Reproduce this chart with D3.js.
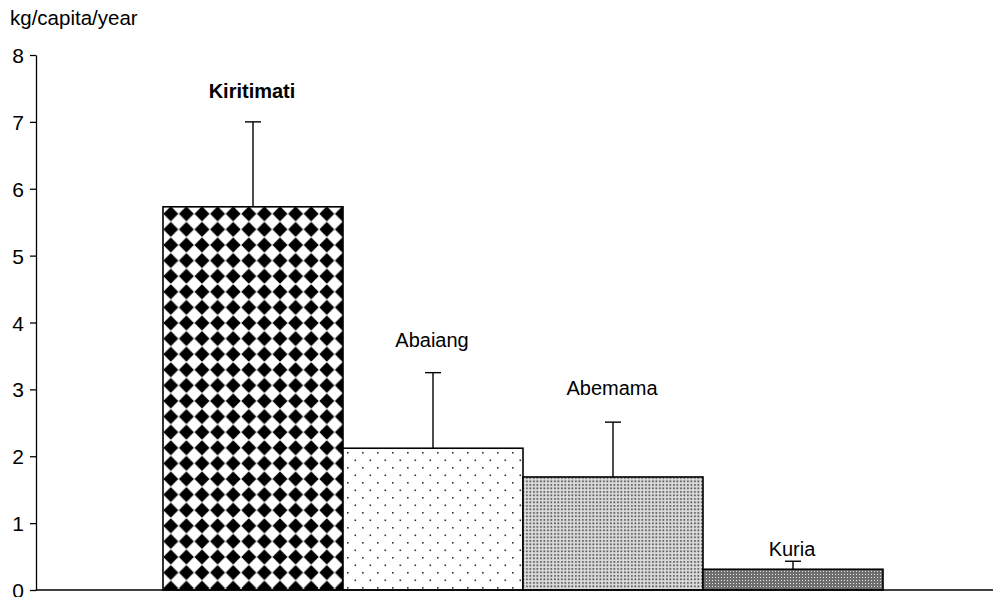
<!DOCTYPE html>
<html><head><meta charset="utf-8">
<script src="https://cdn.jsdelivr.net/npm/d3@7"></script>
<style>body{margin:0;background:#fff}svg{display:block}text{font-family:"Liberation Sans",Arial,sans-serif;fill:#000}</style>
</head><body>
<script>
// data
const categories = ["Kiritimati", "Abaiang", "Abemama", "Kuria"];
const values = [5.73, 2.12, 1.69, 0.31];
const errors = [1.27, 1.13, 0.82, 0.12];
const labelAt = [7.35, 3.63, 2.92, 0.51];
const labelBold = [true, false, false, false];
const yTicks = [0, 1, 2, 3, 4, 5, 6, 7, 8];
const yTitle = "kg/capita/year";

const W = 1001, H = 597;
const svg = d3.select("body").append("svg").attr("width", W).attr("height", H);
const defs = svg.append("defs");

// patterns
const p1 = defs.append("pattern").attr("id", "pKir").attr("patternUnits", "userSpaceOnUse")
  .attr("width", 15.6).attr("height", 15.6).attr("x", 163).attr("y", 206);
p1.append("rect").attr("width", 15.6).attr("height", 15.6).attr("fill", "#fff");
p1.append("path").attr("d", "M7.8,0.3 L15.3,7.8 L7.8,15.3 L0.3,7.8Z").attr("fill", "#000");

const p2 = defs.append("pattern").attr("id", "pAba").attr("patternUnits", "userSpaceOnUse")
  .attr("width", 15).attr("height", 15).attr("x", 345).attr("y", 450);
p2.append("rect").attr("width", 15).attr("height", 15).attr("fill", "#fff");
p2.append("rect").attr("x", 2).attr("y", 2).attr("width", 1.6).attr("height", 1.6).attr("fill", "#333");
p2.append("rect").attr("x", 9.5).attr("y", 9.5).attr("width", 1.6).attr("height", 1.6).attr("fill", "#333");

const p3 = defs.append("pattern").attr("id", "pAbe").attr("patternUnits", "userSpaceOnUse")
  .attr("width", 3.5).attr("height", 3.5);
p3.append("rect").attr("width", 3.5).attr("height", 3.5).attr("fill", "#dedede");
p3.append("rect").attr("x", 1).attr("y", 1).attr("width", 1.8).attr("height", 1.8).attr("fill", "#555");

const p4 = defs.append("pattern").attr("id", "pKur").attr("patternUnits", "userSpaceOnUse")
  .attr("width", 3).attr("height", 3);
p4.append("rect").attr("width", 3).attr("height", 3).attr("fill", "#6e6e6e");
p4.append("rect").attr("x", 1).attr("y", 1).attr("width", 1).attr("height", 1).attr("fill", "#e8e8e8");
const fills = ["url(#pKir)", "url(#pAba)", "url(#pAbe)", "url(#pKur)"];

const x = d3.scaleBand().domain(categories).range([163, 883]).padding(0);
const y = d3.scaleLinear().domain([0, 8]).range([590, 55]);

// y axis
const yAxis = svg.append("g").attr("transform", "translate(36,0)")
  .call(d3.axisLeft(y).tickValues(yTicks).tickSize(6).tickSizeOuter(0).tickFormat(d3.format("d")));
yAxis.select(".domain").attr("stroke", "#000").attr("stroke-width", 1.3);
yAxis.selectAll(".tick line").attr("stroke", "#000").attr("stroke-width", 1.3);
yAxis.selectAll(".tick text").attr("font-size", 21).attr("x", -12).attr("dy", "0.36em")
  .attr("font-family", "Liberation Sans, Arial, sans-serif").attr("fill", "#000");

svg.append("text").attr("x", 10).attr("y", 25).attr("font-size", 20.5).text(yTitle);

// bars
const data = categories.map((c, i) => ({c, v: values[i], e: errors[i], l: labelAt[i], b: labelBold[i], f: fills[i]}));
svg.selectAll("rect.bar").data(data).join("rect").attr("class", "bar")
  .attr("x", d => x(d.c)).attr("y", d => y(d.v))
  .attr("width", x.bandwidth()).attr("height", d => y(0) - y(d.v))
  .attr("fill", d => d.f).attr("stroke", "#000").attr("stroke-width", 1.6);

// error bars
const eb = svg.selectAll("g.err").data(data).join("g").attr("class", "err");
eb.append("line").attr("x1", d => x(d.c) + x.bandwidth() / 2).attr("x2", d => x(d.c) + x.bandwidth() / 2)
  .attr("y1", d => y(d.v)).attr("y2", d => y(d.v + d.e)).attr("stroke", "#000").attr("stroke-width", 1.4);
eb.append("line").attr("x1", d => x(d.c) + x.bandwidth() / 2 - 8).attr("x2", d => x(d.c) + x.bandwidth() / 2 + 8)
  .attr("y1", d => y(d.v + d.e)).attr("y2", d => y(d.v + d.e)).attr("stroke", "#000").attr("stroke-width", 1.4);

// x axis line
svg.append("line").attr("x1", 36).attr("x2", 993).attr("y1", y(0)).attr("y2", y(0))
  .attr("stroke", "#000").attr("stroke-width", 1.3);

// labels
svg.selectAll("text.lbl").data(data).join("text").attr("class", "lbl")
  .attr("x", d => x(d.c) + x.bandwidth() / 2 - 1).attr("y", d => y(d.l))
  .attr("text-anchor", "middle").attr("font-size", 20)
  .attr("font-weight", d => d.b ? "bold" : "normal").text(d => d.c);
</script>
</body></html>
